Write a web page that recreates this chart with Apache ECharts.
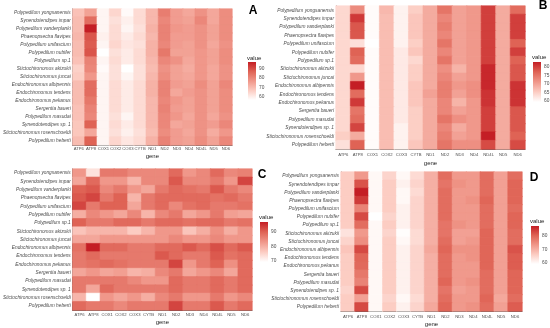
<!DOCTYPE html>
<html><head><meta charset="utf-8">
<script src="https://cdn.jsdelivr.net/npm/echarts@6/dist/echarts.min.js"></script>
<style>html,body{margin:0;padding:0;background:#fff}#c{width:550px;height:328px}</style>
</head><body><div id="c"></div>
<script>
const genes = ['ATP6','ATP8','COX1','COX2','COX3','CYTB','ND1','ND2','ND3','ND4','ND4L','ND5','ND6'];
const species = ['Polypedilum yongsanensis','Synendotendipes impar','Polypedilum vanderplanki','Phaenopsectra flavipes',
  'Polypedilum unifascium','Polypedilum nubifer','Polypedilum sp.1','Stictochironomus akizukii','Stictochironomus juncai',
  'Endochironomus albipennis','Endochironomus tendens','Endochironomus pekanus','Sergentia baueri','Polypedilum masudai',
  'Synendotendipes sp. 1','Stictochironomus rosenschoeldi','Polypedilum heberti'];

const valuesA = [
  [69,75,59,65,58,64,71,82,76,74,78,74,79],
  [70,85,59,63,60,64,71,80,76,75,80,74,79],
  [70,97,59,64,59,63,72,81,77,76,78,75,79],
  [71,89,60,64,61,64,71,81,76,76,78,75,79],
  [70,88,59,65,62,63,72,80,76,75,78,74,78],
  [70,89,57,63,61,64,72,83,75,75,77,75,79],
  [69,81,59,64,61,64,71,80,78,74,77,75,79],
  [66,80,58,63,57,63,70,78,75,73,77,74,78],
  [67,77,59,63,59,63,71,79,75,74,77,74,78],
  [70,85,59,64,61,64,72,81,76,75,79,75,80],
  [70,85,59,64,61,64,72,81,74,76,78,75,79],
  [70,83,59,64,61,64,71,80,77,75,78,75,79],
  [69,81,59,64,61,64,71,81,76,75,78,75,79],
  [69,80,59,63,59,64,71,80,77,74,78,74,78],
  [68,87,59,64,61,64,71,80,74,75,78,76,80],
  [68,74,59,63,60,63,70,79,76,74,78,73,77],
  [70,87,59,65,62,64,72,81,76,75,79,75,80]
];
const valuesB = [
  [64,72.5,60,67.5,61,65,69,75,70,71,80,69,76],
  [64,80.5,60,67,61,66,69,73,70,71,80,69,80],
  [64,78,60,67,61,66,69,74,70,71,80,69,80],
  [64,78,60,67,61,66,69,73,70,71,80,69,80],
  [64,63,59.5,67,61,65,69,75,70,71,80,69,77],
  [64,77,60,67,62,66,69,73,70,71,80,69,80],
  [64,76,60,67,62,64,69,75,70,71,80,69,77],
  [64,64,60,67,62,65,69,72,68,71,82,69,78],
  [64,71,60,67,62,65,69,73,70,71,82,69,78],
  [64,82.8,60,67,62,66,69,74,71,72,82,69,81],
  [64,76,60,67,62,66,70,74,70,72,81,69,81],
  [64,80.5,60,67,62,66,69,73,68,71,81,69,81],
  [64,75,60,67,62,65,69,73,70,71,80,69,78],
  [64,76,60,67,62,65,69,75,72,71,80,69,78],
  [64,79.5,60,67,61,65,69,73,69,71,80,69,78],
  [65,69,60,67,61,65,69,74,70,71,82.8,69,77],
  [63,77,60,67,61,66,69,75,72,72,79,69,79]
];
const valuesC = [
  [83,73,87,87,85,85,85,89,83,85,89,85,86],
  [81,89,83,83,79,85,85,91,85,85,87,83,93],
  [90,91,85,87,83,81,87,89,88,87,91,87,85],
  [91,93,87,90,79,87,89,89,89,89,88,89,87],
  [93,87,90,90,81,87,89,85,88,89,87,87,88],
  [80,85,83,81,85,79,85,87,81,83,87,82,81],
  [90,87,87,89,89,87,89,89,88,89,89,87,88],
  [77,79,79,79,76,79,83,83,77,80,84,80,83],
  [81,81,83,83,83,83,83,85,83,83,85,83,83],
  [88,97,89,89,87,87,89,89,91,89,92,89,91],
  [87,89,87,87,87,87,91,89,87,87,91,88,89],
  [87,88,89,88,87,87,87,93,83,87,90,84,89],
  [81,83,81,82,79,80,85,87,81,83,85,81,89],
  [87,87,87,87,85,83,83,89,87,87,89,87,89],
  [87,81,89,87,87,87,87,89,87,87,89,87,89],
  [79,69,83,81,83,80,85,87,83,83,87,83,85],
  [89,87,87,85,87,87,87,93,87,87,91,87,89]
];
const valuesD = [
  [66,73,60,65,60,64,70,79,73,73,79,72,79],
  [66,82,60,66,61,65,70,78,74,73,79,72,80],
  [66,87.5,60,66,60,64,70,79,73,73,79,72,80],
  [66,84.5,60,66,60,65,70,79,73,74,80,72,80],
  [66,76,60,66,61,65,70,79,73,73,79,72,79],
  [66,83,59,65,61,65,70,79,73,73,79,72,80],
  [66,79,60,66,61,65,70,78,74,73,79,72,80],
  [63,73,60,65,59.3,64,70,78,72,72,80,72,79],
  [65,74.5,60,66,60,64,70,79,72,73,80,72,79],
  [67,83,60,66,61,65,71,80,74,74,80,72,82],
  [66,80,60,66,61,65,70,79,73,74,80,72,81],
  [66,79.5,60,66,61,65,70,79,73,73,80,72,81],
  [66,77.5,60,66,61,65,70,79,73,73,79,72,80],
  [66,76,60,66,61,65,70,80,73,74,79,72,80],
  [65,83,60,66,61,65,70,78,72,73,79,72,80],
  [66,72,60,65,60,64,70,79,73,73,80,71,79],
  [66,83,60,66,61,65,71,80,73,74,79,72,81]
];
const ticksA = [60,70,80,90];
const ticksB = [60,65,70,75,80];
const ticksC = [70,80,90];
const ticksD = [60,70,80];
const panelLetters = ['A','B','C','D'];

const FONT = 'Liberation Sans';
const COLORS = ['#ffffff','#fcccc2','#f0978a','#df6355','#c41e25'];
const layout = [
  {values:valuesA, ticks:ticksA, grid:{left:68,top:9,width:164,height:136}, xm:2, ng:8, bar:{x:248,y:62,w:8,h:38}, title:{x:247,y:58}, letter:{x:253,y:11}},
  {values:valuesB, ticks:ticksB, grid:{left:336,top:6,width:189,height:143}, xm:4, ng:11, bar:{x:533,y:62,w:8,h:40}, title:{x:532,y:57}, letter:{x:543,y:6}},
  {values:valuesC, ticks:ticksC, grid:{left:71,top:169,width:181,height:141}, xm:2.5, ng:9, bar:{x:260,y:222,w:8,h:40}, title:{x:259,y:217}, letter:{x:262,y:175}},
  {values:valuesD, ticks:ticksD, grid:{left:341,top:172,width:181,height:140}, xm:3.5, ng:10, bar:{x:531,y:226,w:8,h:38}, title:{x:530,y:221}, letter:{x:534,y:178}}
];

const grids=[], xAxes=[], yAxes=[], series=[], visualMaps=[], graphics=[];
layout.forEach((p,i)=>{
  const flat = p.values.flat();
  const mn = Math.min(...flat), mx = Math.max(...flat);
  grids.push(p.grid);
  xAxes.push({type:'category', gridIndex:i, data:genes, name:'gene', nameLocation:'middle', nameGap:p.ng,
    nameTextStyle:{fontSize:6, color:'#222', fontFamily:FONT},
    axisLine:{lineStyle:{color:'#333', width:0.8}}, axisTick:{alignWithLabel:true, length:2, lineStyle:{color:'#333'}},
    axisLabel:{fontSize:4.2, color:'#4d4d4d', margin:p.xm, interval:0, fontFamily:FONT}, splitLine:{show:false}});
  yAxes.push({type:'category', gridIndex:i, data:species, inverse:true,
    axisLine:{lineStyle:{color:'#333', width:0.8}}, axisTick:{alignWithLabel:true, length:2, lineStyle:{color:'#333'}},
    axisLabel:{fontSize:4.8, color:'#4d4d4d', margin:2, interval:0, fontStyle:'italic', fontFamily:FONT}, splitLine:{show:false}});
  const data=[];
  p.values.forEach((row,r)=>row.forEach((v,c)=>{
    const col = echarts.color.lerp((v-mn)/(mx-mn), COLORS);
    data.push({value:[c,r,v], itemStyle:{borderColor:col, borderWidth:0.6}});
  }));
  series.push({type:'heatmap', xAxisIndex:i, yAxisIndex:i, data:data, emphasis:{disabled:true}});
  visualMaps.push({type:'continuous', seriesIndex:i, min:mn, max:mx, show:false, inRange:{color:COLORS}});
  graphics.push({type:'rect', shape:{x:p.bar.x, y:p.bar.y, width:p.bar.w, height:p.bar.h}, silent:true,
    style:{fill:{type:'linear',x:0,y:0,x2:0,y2:1, colorStops:COLORS.slice().reverse().map((c,k)=>({offset:k/(COLORS.length-1), color:c}))}}});
  graphics.push({type:'text', x:p.title.x, y:p.title.y, style:{text:'value', fontSize:6, fill:'#222', fontFamily:FONT, verticalAlign:'middle', align:'left'}});
  p.ticks.forEach(t=>{
    const y = p.bar.y + p.bar.h*(mx - t)/(mx - mn);
    graphics.push({type:'text', x:p.bar.x+p.bar.w+3, y:y, style:{text:String(t), fontSize:4.8, fill:'#4d4d4d', fontFamily:FONT, verticalAlign:'middle', align:'left'}});
  });
  graphics.push({type:'text', x:p.letter.x, y:p.letter.y, style:{text:panelLetters[i], fontSize:12, fontWeight:'bold', fill:'#000', fontFamily:FONT, verticalAlign:'middle', align:'center'}});
});

const chart = echarts.init(document.getElementById('c'), null, {renderer:'canvas'});
chart.setOption({animation:false, backgroundColor:'#fff', textStyle:{fontFamily:FONT},
  grid:grids, xAxis:xAxes, yAxis:yAxes, visualMap:visualMaps, series:series, graphic:graphics});
</script></body></html>
